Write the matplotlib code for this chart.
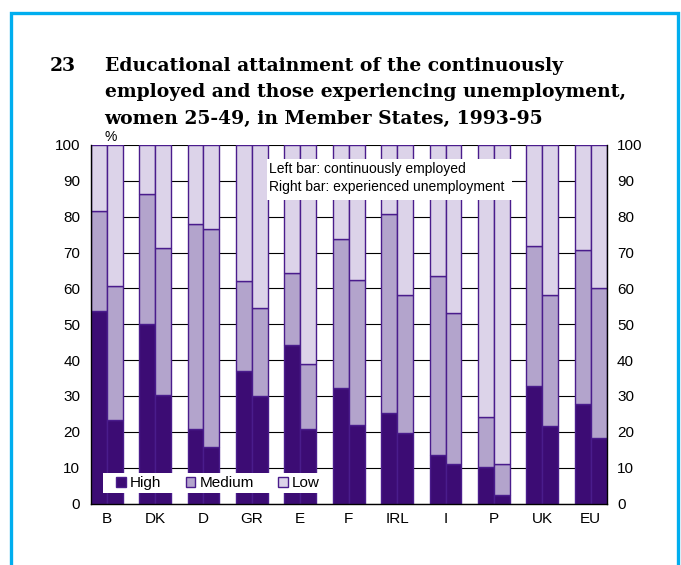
import matplotlib.pyplot as plt
import numpy as np
from matplotlib.patches import Patch, Rectangle

# データ（図から読み取った値, %）
countries = ["B", "DK", "D", "GR", "E", "F", "IRL", "I", "P", "UK", "EU"]

# 左バー: continuously employed
emp_high = [53.8, 50.0, 20.7, 36.9, 44.1, 32.2, 25.2, 13.6, 10.3, 32.9, 27.7]
emp_medium = [27.8, 36.2, 57.2, 25.2, 20.2, 41.6, 55.6, 49.9, 13.8, 38.8, 43.0]
emp_low = [18.4, 13.8, 22.1, 37.9, 35.7, 26.2, 19.2, 36.5, 75.9, 28.3, 29.3]

# 右バー: experienced unemployment
unemp_high = [23.2, 30.3, 15.8, 30.0, 20.7, 22.0, 19.7, 11.1, 2.4, 21.6, 18.2]
unemp_medium = [37.5, 40.9, 60.9, 24.6, 18.3, 40.4, 38.5, 41.9, 8.7, 36.6, 42.0]
unemp_low = [39.3, 28.8, 23.3, 45.4, 61.0, 37.6, 41.8, 47.0, 88.9, 41.8, 39.8]

level_labels = ["High", "Medium", "Low"]
y_ticks = list(range(0, 101, 10))

###############################################################################
# スタイル
###############################################################################
plt.rcParams["font.family"] = ["Liberation Sans", "DejaVu Sans"]

colours = ["#3C0C74", "#B3A4CC", "#DCD3E9"]
edge = "#4A1C8C"

W, H = 681, 565
fig = plt.figure(figsize=(W / 100, H / 100), dpi=100)

# 外枠（青）
fig.patches.append(Rectangle((11 / W, -0.05), 667 / W, 1.05 - 13 / H,
                             transform=fig.transFigure, fill=False,
                             edgecolor="#00AEEF", linewidth=2.4))

ax = fig.add_axes([90.7 / W, 1 - 503.5 / H, 516 / W, 358.5 / H])

x = np.arange(len(countries))
bw = 0.33

for offset, parts in [(-bw / 2, (emp_high, emp_medium, emp_low)),
                      (bw / 2, (unemp_high, unemp_medium, unemp_low))]:
    bottom = np.zeros(len(countries))
    for vals, col in zip(parts, colours):
        vals = np.array(vals)
        ax.bar(x + offset, vals, bw, bottom=bottom, color=col,
               edgecolor=edge, linewidth=1.0, zorder=2)
        bottom += vals

ax.set_xlim(-bw, len(countries) - 1 + bw)
ax.set_ylim(0, 100)
ax.set_yticks(y_ticks)
ax.set_xticks(x)
ax.set_xticklabels(countries)
ax.tick_params(axis="y", length=0, labelsize=11, pad=7.5,
               labelleft=True, labelright=True)
ax.tick_params(axis="x", length=0, labelsize=11, pad=6)
ax.grid(axis="y", color="black", linewidth=0.8, zorder=0)
ax.set_axisbelow(True)
ax.spines["top"].set_visible(False)
for s in ["left", "right", "bottom"]:
    ax.spines[s].set_color("black")
    ax.spines[s].set_linewidth(1.0)
    ax.spines[s].set_zorder(3)

# 注記ボックス
ax.add_patch(Rectangle((0.3411, 0.8466), 0.4748, 0.1144, transform=ax.transAxes,
                       facecolor="white", edgecolor="none", zorder=4))
ax.text(0.3461, 0.907, "Left bar: continuously employed\nRight bar: experienced unemployment",
        transform=ax.transAxes, fontsize=10, va="center", ha="left",
        linespacing=1.38, zorder=5)

# 凡例（白い背景は手動で描く）
ax.add_patch(Rectangle((0.0244, 0.0285), 0.4258, 0.0575, transform=ax.transAxes,
                       facecolor="white", edgecolor="none", zorder=4))
handles = [Patch(facecolor=c, edgecolor=edge, linewidth=1.0) for c in colours]
leg = ax.legend(handles, level_labels, ncol=3, loc="center left",
                bbox_to_anchor=(0.049, 0.0572), borderaxespad=0, borderpad=0,
                fontsize=11, frameon=False, handlelength=0.65, handleheight=0.65,
                handletextpad=0.26, columnspacing=1.59)
leg.set_zorder(5)

# タイトル
fig.text(50 / W, 1 - 57 / H, "23", fontsize=13.5, fontweight="bold",
         family="DejaVu Serif", va="top", ha="left")
fig.text(104.6 / W, 1 - 57 / H,
         "Educational attainment of the continuously\n"
         "employed and those experiencing unemployment,\n"
         "women 25-49, in Member States, 1993-95",
         fontsize=13.5, fontweight="bold", family="DejaVu Serif",
         va="top", ha="left", linespacing=1.59)
fig.text(104.6 / W, 1 - 137 / H, "%", fontsize=10, va="center", ha="left")

fig.savefig("out.png", dpi=100)
